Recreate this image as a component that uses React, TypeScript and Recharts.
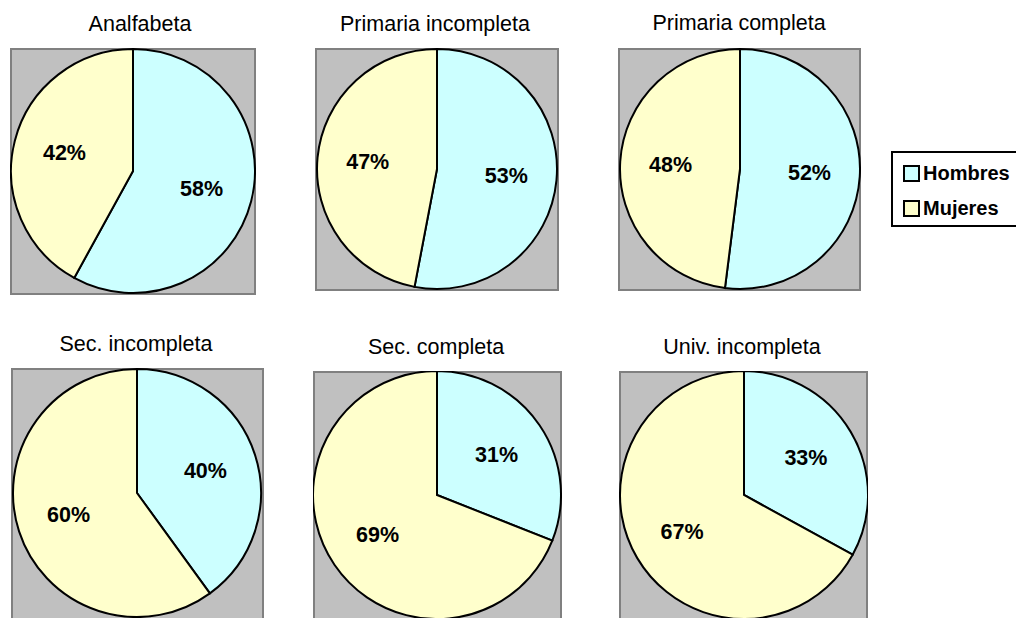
import { PieChart, Pie, Cell } from "recharts";

// Nivel educativo: distribución por sexo (%)
const categories = ["Analfabeta", "Primaria incompleta", "Primaria completa", "Sec. incompleta", "Sec. completa", "Univ. incompleta"];
const hombres = [58, 53, 52, 40, 31, 33];
const mujeres = [42, 47, 48, 60, 69, 67];
const seriesNames = ["Hombres", "Mujeres"];
const seriesColors = ["#CCFFFF", "#FFFFCC"];

// panel boxes (page coords) and pie radius
const panels = [
  { x: 10, y: 48, w: 246, h: 247, cx: 123, cy: 123, r: 122, tx: 140, ty: 14 },
  { x: 315, y: 48, w: 244, h: 243, cx: 122, cy: 121, r: 120, tx: 435, ty: 14 },
  { x: 618, y: 48, w: 243, h: 243, cx: 122, cy: 121, r: 120, tx: 739, ty: 13 },
  { x: 11, y: 368, w: 253, h: 262, cx: 126, cy: 125, r: 124, tx: 136, ty: 334 },
  { x: 313, y: 371, w: 249, h: 262, cx: 124, cy: 124, r: 124, tx: 436, ty: 337 },
  { x: 619, y: 371, w: 249, h: 262, cx: 125, cy: 124, r: 124, tx: 742, ty: 337 },
];

const FONT = "'Liberation Sans', Arial, sans-serif";
const RADIAN = Math.PI / 180;

const renderLabel = (props: any) => {
  const { cx, cy, midAngle, outerRadius, percent } = props;
  const rr = outerRadius * 0.58;
  const x = cx + rr * Math.cos(-midAngle * RADIAN);
  const y = cy + rr * Math.sin(-midAngle * RADIAN);
  return (
    <text x={x} y={y} textAnchor="middle" dominantBaseline="central" fill="#000" fontFamily={FONT} fontWeight="bold" fontSize={21.5}>
      {Math.round(percent * 100)}%
    </text>
  );
};

function Panel({ index }: { index: number }) {
  const p = panels[index];
  const data = [
    { name: seriesNames[0], value: hombres[index] },
    { name: seriesNames[1], value: mujeres[index] },
  ];
  return (
    <>
      <div style={{ position: "absolute", left: p.tx - 150, top: p.ty, width: 300, textAlign: "center", fontFamily: FONT, fontSize: 21.5, lineHeight: "21px", color: "#000" }}>
        {categories[index]}
      </div>
      <div style={{ position: "absolute", left: p.x, top: p.y, width: p.w, height: p.h, background: "#C0C0C0", border: "2px solid #808080", boxSizing: "border-box" }} />
      <div style={{ position: "absolute", left: p.x, top: p.y }}>
        <PieChart width={p.w} height={p.h} margin={{ top: 0, right: 0, bottom: 0, left: 0 }}>
          <Pie
            data={data}
            dataKey="value"
            nameKey="name"
            cx={p.cx}
            cy={p.cy}
            outerRadius={p.r}
            startAngle={90}
            endAngle={-270}
            stroke="#000"
            strokeWidth={2}
            label={renderLabel}
            labelLine={false}
            isAnimationActive={false}
          >
            {data.map((d, i) => (
              <Cell key={d.name} fill={seriesColors[i]} />
            ))}
          </Pie>
        </PieChart>
      </div>
    </>
  );
}

export default function App() {
  return (
    <div style={{ position: "absolute", left: 0, top: 0, width: 1016, height: 618, overflow: "hidden", background: "#fff" }}>
      {categories.map((c, i) => (
        <Panel key={c} index={i} />
      ))}
      <div style={{ position: "absolute", left: 891, top: 151, width: 140, height: 76, border: "2px solid #000", boxSizing: "border-box", background: "#fff" }}>
        {seriesNames.map((n, i) => (
          <div key={n} style={{ position: "absolute", left: 10, top: 8 + i * 35, display: "flex", alignItems: "center", fontFamily: FONT, fontWeight: "bold", fontSize: 20, lineHeight: "24px" }}>
            <span style={{ display: "inline-block", width: 13, height: 13, border: "2px solid #000", background: seriesColors[i], marginRight: 3 }} />
            {n}
          </div>
        ))}
      </div>
    </div>
  );
}
